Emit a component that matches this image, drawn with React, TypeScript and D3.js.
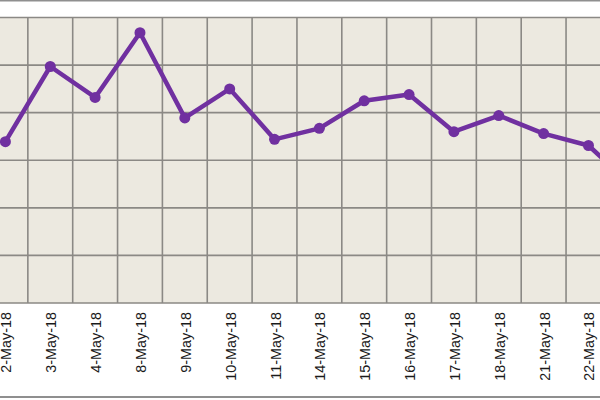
import { useEffect, useRef } from 'react';
import * as d3 from 'd3';

const categories = [
  '2-May-18', '3-May-18', '4-May-18', '8-May-18', '9-May-18', '10-May-18', '11-May-18',
  '14-May-18', '15-May-18', '16-May-18', '17-May-18', '18-May-18', '21-May-18', '22-May-18', '23-May-18',
];
const values = [3.39, 4.97, 4.32, 5.68, 3.89, 4.5, 3.44, 3.67, 4.25, 4.38, 3.6, 3.94, 3.56, 3.31, 2.44];
const yTicks = [0, 1, 2, 3, 4, 5, 6];

const WIDTH = 600;
const HEIGHT = 400;

export default function App() {
  const svgRef = useRef<SVGSVGElement>(null);

  useEffect(() => {
    if (!svgRef.current) return;
    const svg = d3.select(svgRef.current);
    svg.selectAll('*').remove();

    const left = -17;
    const step = 44.85;
    const top = 17.5;
    const bottom = 303;

    const x = d3.scaleBand<string>()
      .domain(categories)
      .range([left, left + step * categories.length])
      .padding(0);
    const y = d3.scaleLinear().domain([0, 6]).range([bottom, top]);

    // outer chart frame
    svg.append('rect')
      .attr('x', -20).attr('y', 0.5)
      .attr('width', WIDTH + 40).attr('height', 396.5)
      .attr('fill', '#ffffff')
      .attr('stroke', '#8f8f8f')
      .attr('stroke-width', 2);

    const [x0, x1] = x.range();
    svg.append('rect')
      .attr('x', x0).attr('y', top)
      .attr('width', x1 - x0).attr('height', bottom - top)
      .attr('fill', '#ece9e0');

    // grid
    const grid = svg.append('g').attr('stroke', '#8b8985').attr('stroke-width', 1.6);
    grid.selectAll('line.h')
      .data(yTicks)
      .join('line')
      .attr('class', 'h')
      .attr('x1', x0).attr('x2', x1)
      .attr('y1', (d) => y(d)).attr('y2', (d) => y(d));
    grid.selectAll('line.v')
      .data(categories.concat(['end']))
      .join('line')
      .attr('class', 'v')
      .attr('x1', (_, i) => x0 + i * x.step())
      .attr('x2', (_, i) => x0 + i * x.step())
      .attr('y1', top).attr('y2', bottom);

    const cx = (d: string) => (x(d) ?? 0) + x.bandwidth() / 2;
    const line = d3.line<number>()
      .x((_, i) => cx(categories[i]))
      .y((d) => y(d));

    svg.append('path')
      .datum(values)
      .attr('d', line)
      .attr('fill', 'none')
      .attr('stroke', '#7030a0')
      .attr('stroke-width', 4.5)
      .attr('stroke-linejoin', 'round');

    svg.append('g')
      .selectAll('circle')
      .data(values)
      .join('circle')
      .attr('cx', (_, i) => cx(categories[i]))
      .attr('cy', (d) => y(d))
      .attr('r', 5.5)
      .attr('fill', '#7030a0');

    // rotated category labels
    svg.append('g')
      .selectAll('text')
      .data(categories)
      .join('text')
      .attr('transform', (d) => `translate(${cx(d) + 6},${312}) rotate(-90)`)
      .attr('text-anchor', 'end')
      .attr('font-family', '"Liberation Sans", Arial, sans-serif')
      .attr('font-size', 14.4)
      .attr('fill', '#1a1a1a')
      .text((d) => d);
  }, []);

  return (
    <div style={{ position: 'fixed', left: 0, top: 0 }}>
      <svg ref={svgRef} width={WIDTH} height={HEIGHT} style={{ display: 'block' }} />
    </div>
  );
}
